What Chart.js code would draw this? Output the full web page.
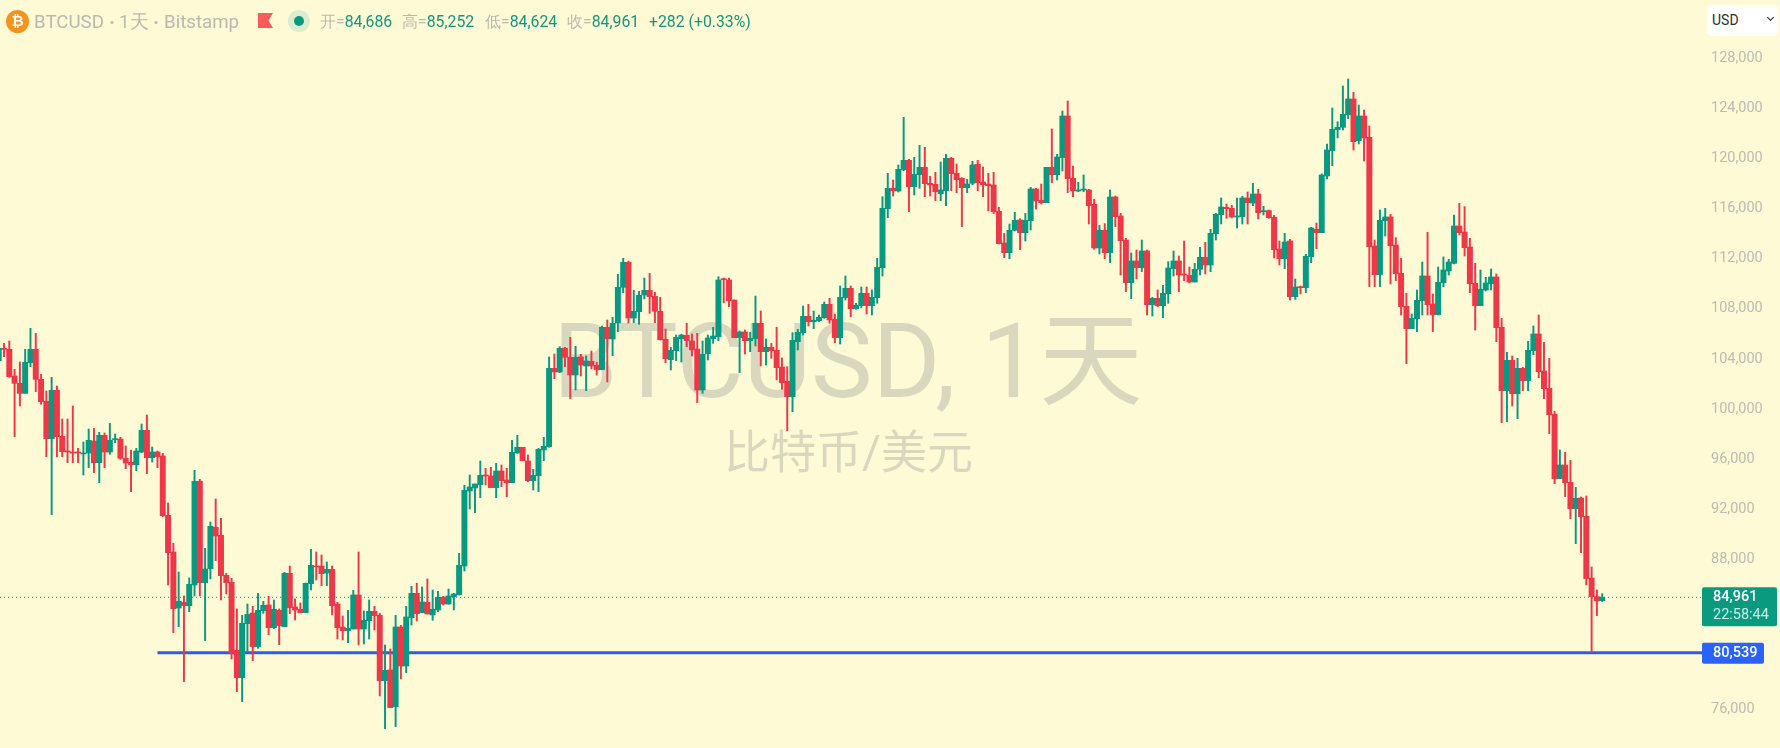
<!DOCTYPE html>
<html>
<head>
<meta charset="utf-8">
<title>BTCUSD</title>
<script src="https://cdn.jsdelivr.net/npm/chart.js@4"></script>
<style>
html, body { margin: 0; padding: 0; background: #fffad6; overflow: hidden; }
#wrap { position: relative; width: 1780px; height: 748px; font-family: Roboto, sans-serif; }
#chart { position: absolute; left: 0; top: 0; }
.h { position: absolute; white-space: nowrap; color: #b9b9ae; }
.big { top: 10px; font-size: 18.7px; line-height: 24px; }
.sep { top: 10px; font-size: 20px; line-height: 24px; font-weight: 700; }
.val { top: 12px; font-size: 15.8px; line-height: 20px; }
.val b { font-weight: 400; color: #14967b; }
.coin { left: 6px; top: 10px; width: 23px; height: 23px; border-radius: 50%; background: #f7931a; color: #fff; font: bold 15px/23px "DejaVu Sans", sans-serif; text-align: center; }
.flag { left: 258px; top: 13px; width: 15px; height: 15px; background: #ff5a5a; clip-path: polygon(0 0, 100% 0, 70% 50%, 100% 100%, 0 100%); }
.halo { left: 288px; top: 10px; width: 22px; height: 22px; border-radius: 50%; background: #dcedcf; }
.dot { left: 294px; top: 16px; width: 10px; height: 10px; border-radius: 50%; background: #089981; }
.usd { left: 1707px; top: 5px; width: 71px; height: 31px; background: #fff; border-radius: 5px; color: #28312e; font-size: 14px; line-height: 31px; text-indent: 5px; }
.usd i { position: absolute; left: 61px; top: 10px; width: 4px; height: 4px; border-right: 1.5px solid #222; border-bottom: 1.5px solid #222; transform: rotate(45deg); }
</style>
</head>
<body>
<div id="wrap">
  <canvas id="chart" width="1780" height="748"></canvas>
  <div class="h coin">₿</div>
  <div class="h big" style="left:34px">BTCUSD</div>
  <div class="h sep" style="left:109px">·</div>
  <div class="h big" style="left:119px">1天</div>
  <div class="h sep" style="left:153px">·</div>
  <div class="h big" style="left:164px">Bitstamp</div>
  <div class="h flag"></div>
  <div class="h halo"></div>
  <div class="h dot"></div>
  <div class="h val" style="left:320px">开=<b>84,686</b></div>
  <div class="h val" style="left:402px">高=<b>85,252</b></div>
  <div class="h val" style="left:485px">低=<b>84,624</b></div>
  <div class="h val" style="left:567px">收=<b>84,961</b></div>
  <div class="h val" style="left:649px"><b>+282 (+0.33%)</b></div>
  <div class="h usd">USD<i></i></div>
</div>
<script>
const opens = [
  103860,104845,104765,102636,102050,101252,103700,104765,102370,100613,
  97631,101491,97817,96646,96566,96566,96407,96487,97445,95715,
  97897,96566,97551,97605,96061,95741,95555,96566,98297,96114,
  96566,96247,91508,88580,84108,84560,84294,85945,94224,86131,
  87250,90550,89911,86717,86158,80727,78544,82857,83709,81020,
  83895,84348,82537,83921,82617,86876,84188,84002,83735,86051,
  87462,87462,86903,87196,84427,82590,82298,82431,85146,82431,
  83096,83842,83522,78304,79157,76228,82590,79476,83336,85279,
  83735,84561,83549,83948,84960,84427,85013,85173,87462,93453,
  93692,93959,94731,94651,93719,95050,94331,94118,96488,96940,
  95849,94278,94677,96727,96994,103249,102956,104846,104128,102717,
  104155,103436,103808,103489,103143,106524,105592,106870,109718,111714,
  107269,107775,109106,109478,108999,107801,105565,103942,104660,105618,
  105885,105432,104793,101519,104421,105618,105778,110383,110304,108706,
  105698,106151,105459,105618,106843,104580,104926,104687,103356,102211,
  100987,105379,106098,107402,106976,107056,107296,108360,107162,105698,
  108893,109638,108014,108254,109239,108254,108893,111290,116002,117626,
  117413,119116,119862,117759,118717,119303,118025,117945,117200,117439,
  120022,118824,118424,117679,118028,119542,118131,117972,117892,115789,
  113260,112488,114272,115097,114085,115044,117572,116667,116481,119303,
  118717,120075,123402,118424,117413,117493,117493,116348,112861,114272,
  112488,116933,115416,113499,110092,111822,111290,112621,108335,108840,
  108255,109213,111210,111822,110757,110677,110145,111157,112115,111503,
  114005,115522,116108,116028,115336,115363,116853,116454,117173,115762,
  115842,115309,112780,112009,113419,108974,109772,109692,112168,114351,
  114085,118611,120634,122311,122497,123509,124760,121433,123402,121699,
  113021,110731,115044,115337,113100,110838,108202,106419,107218,108655,
  110625,108388,107537,110092,111024,111636,114617,114138,112940,110038,
  108255,109506,110012,110544,106523,101465,103888,101226,103249,102264,
  104660,105991,103036,101652,99575,94438,95529,94145,92042,92894,
  91429,86505,85014,84686
];
const highs = [
  104900,105245,105431,103168,103754,104765,106443,106043,102769,101438,
  102529,101837,99202,99202,100240,96859,97365,98403,98456,98137,
  98084,98856,98004,97738,97046,96726,96859,98802,99521,96966,
  96646,96460,92494,89272,86983,85067,86504,95102,94384,88873,
  90976,92813,91269,86877,86477,84028,83522,84427,84241,85279,
  84640,85040,84747,84028,86956,87462,84827,84507,86104,88793,
  88580,88340,87781,87462,84560,83469,83922,85519,88580,83868,
  84747,84241,83682,81153,80834,83522,82723,84241,85838,86078,
  85785,86424,85545,85439,85040,85625,85279,88473,93904,94731,
  94012,95849,95263,95343,95662,95529,95263,97499,97898,96940,
  96328,95183,96860,97739,104155,104394,104980,104926,105725,105006,
  104368,104234,104634,103729,106630,107109,107322,110756,112034,111821,
  109478,109399,110463,110836,109319,108919,106390,104926,105911,105964,
  106843,105991,106044,105432,105911,106524,110570,110463,110463,108706,
  106231,106311,106124,109026,107828,105592,105246,106524,104075,103382,
  106098,106364,108227,108360,107828,107508,108547,108839,107588,109824,
  110623,109824,108440,109745,109745,109505,112034,116960,118824,118291,
  119489,123296,119942,120101,121060,120900,118584,118903,119729,120341,
  120101,119569,118477,118344,119782,119862,119329,118824,118903,116108,
  114032,114777,115709,115203,115629,117706,117626,117972,119303,122364,
  120341,123801,124600,119409,118105,118690,117546,116747,114671,114804,
  117492,117013,115629,113632,112461,112700,113499,112700,108920,109506,
  109879,111769,112621,112221,113419,111343,111636,112914,113313,114351,
  115629,116853,116374,116268,116853,116986,117332,118025,117545,116188,
  115895,115469,113419,114032,113552,110385,109826,112355,114511,114857,
  118770,121166,124041,122950,125798,126357,125292,124281,123882,122604,
  113500,115896,116029,115550,113686,112036,109241,107590,109507,111743,
  114112,109188,111344,112142,111956,115496,116427,116161,113632,111636,
  111103,110518,111183,110784,107242,104527,104234,104048,103329,105405,
  106630,107508,105325,104048,99815,96727,96541,95902,93746,92973,
  93053,87383,85547,85252
];
const lows = [
  103860,104180,102529,97791,100240,101252,103381,101385,100373,96194,
  91562,96194,96194,95715,95715,95715,94730,95315,94916,94117,
  95315,96380,97312,95980,95235,93399,95076,96513,94836,95768,
  95315,91402,85945,82138,82617,78225,83815,85067,85067,81499,
  86424,87889,84747,85227,80035,77426,76628,80621,79902,80887,
  83682,81978,82458,81180,82617,83655,83150,83735,83735,85545,
  86344,85891,85891,83549,81632,81552,81339,82431,81153,81233,
  81632,82351,77080,74471,76149,74631,78438,78943,82750,83070,
  83735,83629,83123,83815,84348,84401,83948,85146,87063,92015,
  91723,92921,93932,93719,92921,93799,92999,94118,96461,95875,
  94198,93533,93400,95875,96940,102424,102903,103382,100827,101519,
  102637,101466,103196,102717,103143,102158,104261,106177,109292,106870,
  106896,106763,108786,107641,106896,105512,103702,103116,103862,103755,
  104979,104234,100507,101253,103915,105246,105459,108493,108174,105698,
  102903,104394,104580,105033,103436,103516,104048,102318,101572,98271,
  99789,104713,105911,106630,106417,106976,107242,106843,105299,105193,
  108706,107375,107961,108094,107588,107508,108440,110625,115283,117013,
  117333,119037,115762,117093,117626,116960,117013,116641,116641,116242,
  117439,117280,114564,117280,117918,117439,116960,115815,115602,113180,
  112089,112009,114219,112728,113420,114298,115975,116375,116481,118078,
  118291,119010,117280,116960,117360,117360,114777,112754,112382,112009,
  111689,114564,110704,109373,108814,110385,110970,107510,107430,108175,
  107297,108441,110624,109373,110252,110065,110145,110704,110784,110970,
  113499,114777,115229,115256,114458,114777,114777,116241,115176,115496,
  115229,112062,111503,111210,108708,108761,109187,109293,111689,112807,
  114085,118371,119436,121646,122284,123189,120687,121166,119809,109773,
  109773,109773,113819,109986,110252,107510,103624,106419,106179,107510,
  107510,106179,107510,109773,110704,111583,113898,112221,109293,106312,
  108255,109426,109506,105378,98910,98990,100241,99229,101465,101465,
  104340,102504,100826,98031,94038,94438,93000,91243,89247,88528,
  85945,80595,83497,84624
];
const closes = [
  104845,104765,102583,102050,101252,103727,104765,102370,100586,97631,
  101491,97791,96593,96566,96487,96487,96487,97498,95715,97897,
  96566,97498,97631,96061,95688,95555,96646,98297,96114,96566,
  96194,91482,88527,84055,84640,84294,85999,94224,86131,87223,
  90630,89858,86690,86131,80488,78544,82883,83602,81020,83921,
  84321,82537,84002,82697,86876,84134,83948,83735,86078,87515,
  87382,86850,87196,84294,82537,82298,82484,85146,82431,83123,
  83842,83496,78304,79130,76149,82590,79476,83389,85279,83655,
  84587,83629,84002,84960,84427,85066,85226,87515,93505,93772,
  94012,94704,94651,93719,95050,94278,94118,96541,96940,95875,
  94278,94704,96780,97020,103249,102956,104846,104128,102717,104128,
  103516,103835,103436,103143,106524,105618,106843,109718,111714,107269,
  107801,109079,109478,108973,107801,105539,104021,104687,105725,105911,
  105459,104713,101519,104367,105672,105831,110304,110330,108653,105698,
  106151,105459,105645,106843,104580,104926,104660,103303,102105,100987,
  105485,106124,107402,106976,107083,107322,108360,107109,105698,108919,
  109638,108014,108280,109239,108254,108919,111315,116029,117626,117439,
  119143,119862,117759,118744,119303,117998,117892,117360,117493,120022,
  118797,118318,117679,117972,119489,118078,117918,117839,115762,113207,
  112488,114272,115070,114085,115070,117572,116614,116481,119303,118717,
  120128,123402,118398,117439,117493,117572,116241,112861,114272,112488,
  116933,115363,113446,110092,111822,111290,112621,108335,108840,108255,
  109240,111263,111822,110704,110704,110145,111157,112115,111503,114032,
  115549,116135,116002,115336,115416,116853,116481,117173,115682,115842,
  115283,112727,112009,113340,108974,109746,109692,112195,114458,114085,
  118690,120687,122338,122497,123536,124760,121353,123402,121646,112967,
  110731,115070,115337,113047,110811,108176,106419,107244,108682,110625,
  108335,107537,110119,111104,111743,114618,114085,112887,110012,108255,
  109559,110065,110544,106498,101465,103888,101226,103249,102264,104686,
  105991,102983,101625,99549,94438,95529,94118,92042,92867,91403,
  86452,85014,84679,84961
];
const priceTicks = [128000,124000,120000,116000,112000,108000,104000,100000,96000,92000,88000,76000];
const lastPrice = 84961;
const countdown = '22:58:44';
const levelPrice = 80539;
const levelStart = 30;
const watermark = 'BTCUSD, 1天';
const watermarkSub = '比特币/美元';

const upColor = '#089981';
const downColor = '#ee3848';
const fmt = v => v.toLocaleString('en-US');
const xMin = 0.242;
const xMax = 321.86;

const barColors = opens.map((o, i) => closes[i] >= o ? upColor : downColor);

const overlay = {
    id: 'overlay',
    beforeDatasetsDraw(chart) {
        const c = chart.ctx;
        c.save();
        c.fillStyle = '#d9d8be';
        c.textAlign = 'left';
        c.textBaseline = 'alphabetic';
        c.font = '400 103.5px Roboto, "Noto Sans CJK SC"';
        c.fillText(watermark, 553, 397);
        c.font = '400 46px Roboto, "Noto Sans CJK SC"';
        c.fillText(watermarkSub, 724, 468);
        c.restore();
    },
    afterDraw(chart) {
        const c = chart.ctx;
        const y = chart.scales.y;
        const lastY = y.getPixelForValue(lastPrice);
        const levelY = y.getPixelForValue(levelPrice);
        c.save();
        c.textAlign = 'left';
        c.textBaseline = 'middle';
        c.fillStyle = '#0a9a80';
        c.beginPath();
        c.roundRect(1702, lastY - 10, 75, 39, 2);
        c.fill();
        c.fillStyle = '#ffffff';
        c.font = '500 14.5px Roboto';
        c.fillText(fmt(lastPrice), 1713, lastY + 0.5);
        c.fillStyle = '#cdeee4';
        c.font = '14.5px Roboto';
        c.fillText(countdown, 1713, lastY + 18);
        c.fillStyle = '#2962ff';
        c.beginPath();
        c.roundRect(1702, levelY - 10, 62, 21, 2);
        c.fill();
        c.fillStyle = '#ffffff';
        c.font = '500 14.5px Roboto';
        c.fillText(fmt(levelPrice), 1713, levelY + 0.5);
        c.restore();
    }
};

document.addEventListener('DOMContentLoaded', () => {
    new Chart(document.getElementById('chart'), {
        type: 'bar',
        data: {
            datasets: [
                {
                    label: 'body',
                    data: opens.map((o, i) => ({ x: i, y: [o, closes[i]] })),
                    backgroundColor: barColors,
                    barThickness: 5.3,
                    minBarLength: 1,
                    grouped: false,
                    order: 1
                },
                {
                    label: 'wick',
                    data: highs.map((h, i) => ({ x: i, y: [lows[i], h] })),
                    backgroundColor: barColors,
                    barThickness: 1.3,
                    grouped: false,
                    order: 2
                },
                {
                    type: 'line',
                    label: 'level',
                    data: [{ x: levelStart, y: levelPrice }, { x: xMax, y: levelPrice }],
                    borderColor: '#2f5ce6',
                    borderWidth: 3,
                    pointRadius: 0,
                    order: 3
                },
                {
                    type: 'line',
                    label: 'last',
                    data: [{ x: xMin, y: lastPrice }, { x: xMax, y: lastPrice }],
                    borderColor: upColor,
                    borderWidth: 1,
                    borderDash: [1, 3],
                    pointRadius: 0,
                    order: 4
                }
            ]
        },
        options: {
            responsive: false,
            animation: false,
            events: [],
            layout: { padding: 0 },
            plugins: { legend: { display: false }, tooltip: { enabled: false } },
            scales: {
                x: { type: 'linear', display: false, min: xMin, max: xMax, offset: false, grid: { display: false } },
                y: {
                    position: 'right',
                    min: 72924,
                    max: 132667,
                    grid: { display: false },
                    border: { display: false },
                    afterBuildTicks: s => { s.ticks = priceTicks.map(v => ({ value: v })); },
                    afterFit: s => { s.width = 78; s.paddingTop = 0; s.paddingBottom = 0; },
                    ticks: {
                        autoSkip: false,
                        color: '#bcbcb2',
                        padding: 1,
                        font: { family: 'Roboto', size: 14.5 },
                        callback: v => fmt(v)
                    }
                }
            }
        },
        plugins: [overlay]
    });
});
</script>
</body>
</html>
